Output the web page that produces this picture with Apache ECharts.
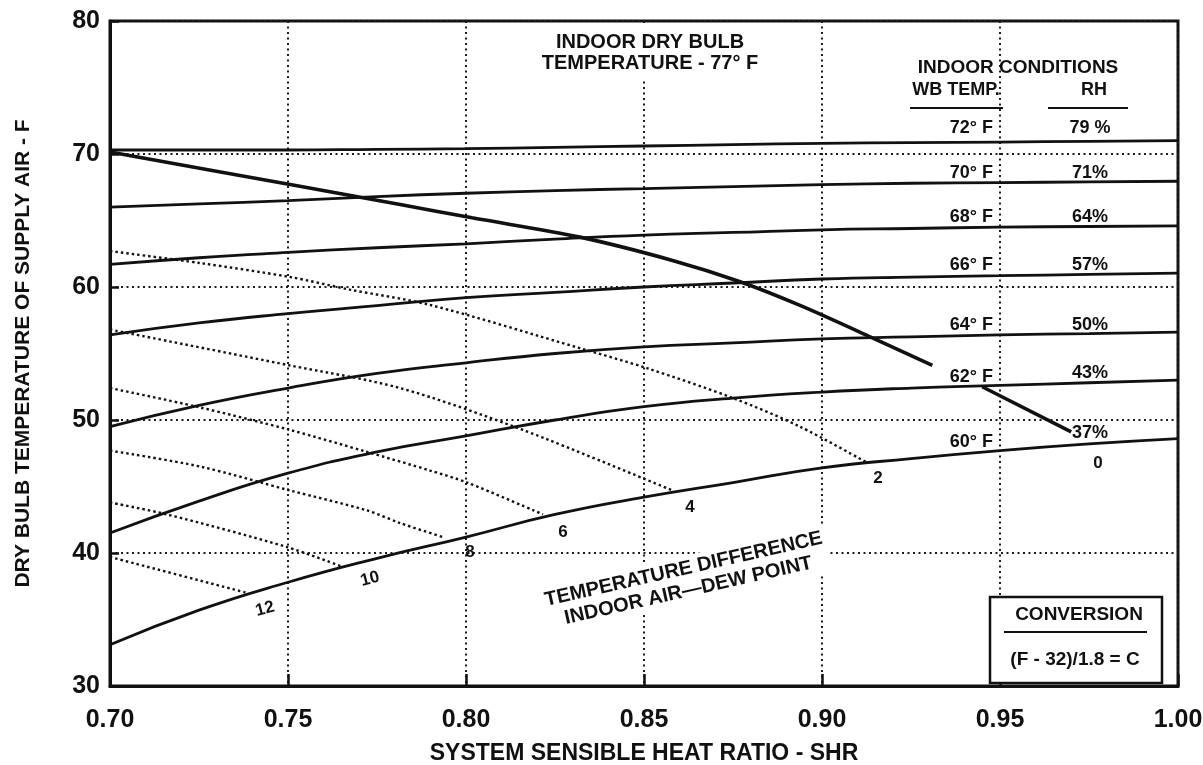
<!DOCTYPE html>
<html>
<head>
<meta charset="utf-8">
<title>System sensible heat ratio</title>
<script src="https://cdn.jsdelivr.net/npm/echarts@6/dist/echarts.min.js"></script>
<style>
  html, body { margin: 0; padding: 0; background: #fff; }
  #main { width: 1203px; height: 765px; }
</style>
</head>
<body>
<div id="main"></div>
<script>
// system sensible heat ratio (x)
var shr = [0.700, 0.725, 0.750, 0.775, 0.800, 0.825, 0.850, 0.875, 0.900, 0.925, 0.950, 0.975, 1.000];

// dry bulb temperature of supply air (F), one list per indoor wet bulb temp
var wb72 = [70.3, 70.3, 70.3, 70.35, 70.4, 70.5, 70.6, 70.7, 70.8, 70.85, 70.9, 70.95, 71.0];
var wb70 = [66.0, 66.25, 66.5, 66.8, 67.05, 67.25, 67.4, 67.55, 67.7, 67.8, 67.85, 67.9, 67.95];
var wb68 = [61.7, 62.2, 62.6, 62.95, 63.25, 63.6, 63.9, 64.1, 64.3, 64.4, 64.5, 64.55, 64.6];
var wb66 = [56.4, 57.3, 58.0, 58.6, 59.2, 59.6, 60.0, 60.3, 60.6, 60.75, 60.85, 60.95, 61.05];
var wb64 = [49.5, 51.1, 52.4, 53.5, 54.3, 55.0, 55.5, 55.8, 56.1, 56.25, 56.4, 56.5, 56.6];
var wb62 = [41.5, 43.9, 46.0, 47.6, 48.8, 50.0, 51.0, 51.65, 52.1, 52.4, 52.6, 52.8, 53.0];
var wb60 = [33.1, 35.7, 37.8, 39.6, 41.2, 42.9, 44.2, 45.3, 46.4, 47.1, 47.7, 48.2, 48.6];

var wbNames = ['72° F', '70° F', '68° F', '66° F', '64° F', '62° F', '60° F'];
var rhNames = ['79 %', '71%', '64%', '57%', '50%', '43%', '37%'];

// temperature difference indoor air - dew point (0 is the heavy line, null = break under label)
var dp0Shr = [0.700, 0.7506, 0.7815, 0.8017, 0.832, 0.858, 0.877, 0.894, 0.914, 0.931, 0.938, 0.945, 0.970];
var dp0Temp = [70.15, 67.7, 66.2, 65.2, 63.75, 62.0, 60.4, 58.6, 56.2, 54.1, null, 52.5, 49.1];
var dp2Shr = [0.700, 0.7253, 0.7506, 0.7674, 0.7899, 0.832, 0.8508, 0.875, 0.8938, 0.9126];
var dp2Temp = [62.7, 61.8, 60.75, 59.8, 58.65, 55.4, 53.9, 51.65, 49.5, 46.8];
var dp4Shr = [0.700, 0.7506, 0.7815, 0.816, 0.858];
var dp4Temp = [56.8, 54.1, 52.4, 49.25, 44.7];
var dp6Shr = [0.700, 0.7244, 0.7506, 0.7722, 0.7899, 0.8003, 0.8216];
var dp6Temp = [52.4, 51.0, 49.25, 47.6, 46.2, 45.3, 42.9];
var dp8Shr = [0.700, 0.7253, 0.7506, 0.7722, 0.7815, 0.7935];
var dp8Temp = [47.7, 46.5, 44.7, 43.2, 42.25, 41.2];
var dp10Shr = [0.700, 0.716, 0.7497, 0.7654];
var dp10Temp = [43.8, 42.9, 40.45, 38.95];
var dp12Shr = [0.700, 0.7385];
var dp12Temp = [39.7, 37.0];
var dpNames = ['12', '10', '8', '6', '4', '2', '0'];

var FONT = '"Liberation Sans", Arial, Helvetica, sans-serif';
var INK = '#111';

function pairs(xs, ys) {
  return xs.map(function (x, i) { return [x, ys[i]]; });
}

function txt(text, x, y, size, opt) {
  opt = opt || {};
  var style = {
    text: text, fill: INK, font: 'bold ' + size + 'px ' + FONT,
    align: opt.align || 'center', textAlign: opt.align || 'center',
    verticalAlign: 'middle', textVerticalAlign: 'middle'
  };
  if (opt.lineHeight) style.lineHeight = opt.lineHeight;
  if (opt.bg) { style.backgroundColor = '#fff'; style.padding = opt.padding || [2, 4]; }
  return { type: 'text', x: x, y: y, z: 20, rotation: opt.rotation || 0, style: style };
}

var series = [];
[wb72, wb70, wb68, wb66, wb64, wb62, wb60].forEach(function (ys, i) {
  series.push({
    name: wbNames[i], type: 'line', data: pairs(shr, ys), smooth: true,
    symbol: 'none', silent: true, lineStyle: { color: INK, width: 2.8 }
  });
});
[[dp12Shr, dp12Temp], [dp10Shr, dp10Temp], [dp8Shr, dp8Temp], [dp6Shr, dp6Temp],
 [dp4Shr, dp4Temp], [dp2Shr, dp2Temp]].forEach(function (d, i) {
  series.push({
    name: 'dp' + dpNames[i], type: 'line', data: pairs(d[0], d[1]), smooth: 0.3,
    symbol: 'none', silent: true, lineStyle: { color: INK, width: 2.4, type: [2.5, 3] }
  });
});
series.push({
  name: 'dp0', type: 'line', data: pairs(dp0Shr, dp0Temp), smooth: 0.3, connectNulls: false,
  symbol: 'none', silent: true, lineStyle: { color: INK, width: 3.6 }
});

// annotation layout (pixels)
var wbLabelY = [128, 173, 217, 265, 325, 377, 442];
var rhLabelY = [128, 173, 217, 265, 325, 373, 433];
var dpLabelPos = [[265, 609, 0.26], [370, 579, 0.26], [470, 552, 0], [563, 532, 0],
                  [690, 507, 0], [878, 478, 0], [1098, 463, 0]];

var graphics = [];
graphics.push(txt('INDOOR DRY BULB\nTEMPERATURE - 77° F', 650, 53, 20,
  { lineHeight: 21, bg: true, padding: [10, 6, 4, 6] }));
graphics.push(txt('INDOOR CONDITIONS', 1018, 68, 19));
graphics.push(txt('WB TEMP.', 956, 90, 18));
graphics.push(txt('RH', 1094, 90, 18));
graphics.push({ type: 'line', z: 20, shape: { x1: 910, y1: 108, x2: 1003, y2: 108 }, style: { stroke: INK, lineWidth: 2 } });
graphics.push({ type: 'line', z: 20, shape: { x1: 1048, y1: 108, x2: 1128, y2: 108 }, style: { stroke: INK, lineWidth: 2 } });
wbNames.forEach(function (n, i) {
  graphics.push(txt(n, 993, wbLabelY[i], 18, { align: 'right' }));
  graphics.push(txt(rhNames[i], 1090, rhLabelY[i], 18));
});
dpNames.forEach(function (n, i) {
  var p = dpLabelPos[i];
  graphics.push(txt(n, p[0], p[1], 17, { rotation: p[2] }));
});
graphics.push(txt('TEMPERATURE DIFFERENCE\nINDOOR AIR\u2014DEW POINT', 686, 580, 20,
  { lineHeight: 22, rotation: 0.222, bg: true, padding: [2, 4] }));
// conversion box
graphics.push({ type: 'rect', z: 19, shape: { x: 990, y: 597, width: 172, height: 86 },
  style: { fill: '#fff', stroke: INK, lineWidth: 2.5 } });
graphics.push(txt('CONVERSION', 1079, 615, 19));
graphics.push({ type: 'line', z: 20, shape: { x1: 1004, y1: 632, x2: 1147, y2: 632 }, style: { stroke: INK, lineWidth: 2 } });
graphics.push(txt('(F - 32)/1.8 = C', 1075, 660, 19));

var chart = echarts.init(document.getElementById('main'), null, { renderer: 'canvas' });
chart.setOption({
  animation: false,
  backgroundColor: '#ffffff',
  grid: {
    left: 110, right: 25, top: 21, bottom: 79, containLabel: false, outerBoundsMode: 'none',
    show: true, borderColor: INK, borderWidth: 3
  },
  xAxis: {
    type: 'value', min: 0.70, max: 1.00, interval: 0.05,
    name: 'SYSTEM SENSIBLE HEAT RATIO - SHR', nameLocation: 'middle', nameGap: 56,
    nameTextStyle: { color: INK, fontFamily: FONT, fontWeight: 'bold', fontSize: 23 },
    axisLine: { lineStyle: { color: INK, width: 3 } },
    axisTick: { inside: true, length: 12, lineStyle: { color: INK, width: 2.5 } },
    axisLabel: { color: INK, fontFamily: FONT, fontWeight: 'bold', fontSize: 25, margin: 22,
      formatter: function (v) { return v.toFixed(2); } },
    splitLine: { show: true, lineStyle: { color: '#1a1a1a', width: 2, type: [2, 3.5] } }
  },
  yAxis: {
    type: 'value', min: 30, max: 80, interval: 10,
    name: 'DRY BULB TEMPERATURE OF SUPPLY AIR - F', nameLocation: 'middle', nameGap: 76,
    nameTextStyle: { color: INK, fontFamily: FONT, fontWeight: 'bold', fontSize: 21 },
    axisLine: { lineStyle: { color: INK, width: 3 } },
    axisTick: { inside: true, length: 9, lineStyle: { color: INK, width: 2.5 } },
    axisLabel: { color: INK, fontFamily: FONT, fontWeight: 'bold', fontSize: 25, margin: 10 },
    splitLine: { show: true, lineStyle: { color: '#1a1a1a', width: 2, type: [2, 3.5] } }
  },
  series: series,
  graphic: graphics
});
</script>
</body>
</html>
